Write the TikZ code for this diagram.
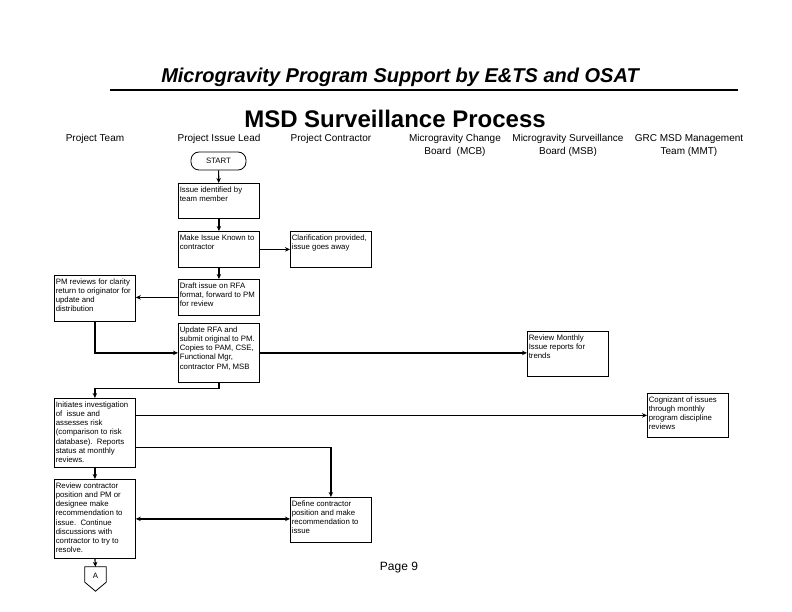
\documentclass[tikz,border=0pt]{standalone}
\usepackage{fontspec}
\setmainfont{Liberation Sans}
\usetikzlibrary{arrows.meta,calc}
\tikzset{
  pbox/.style={draw, line width=0.8pt, inner sep=0pt, fill=white},
  ptext/.style={font=\fontsize{7.8}{9.2}\selectfont, align=left, inner xsep=1.6pt, inner ysep=3.5pt},
  hdr/.style={font=\fontsize{10}{13}\selectfont, align=center},
  arr/.style={line width=1.2pt, -{Stealth[length=5pt,width=4.5pt]}},
  biarr/.style={line width=1.2pt, {Stealth[length=5pt,width=4.5pt]}-{Stealth[length=5pt,width=4.5pt]}},
}
\newcommand\pbox[6]{%
  \node[pbox, minimum width=#4pt, minimum height=#5pt, anchor=north west] (#1) at (#2,#3) {};
  \node[ptext, anchor=north west] (#1-t) at (#1.north west) {#6};
}
\begin{document}
\begin{tikzpicture}[x=1pt,y=-1pt]
\useasboundingbox (0,0) rectangle (792,612);
% titles
\node[font=\fontsize{20}{24}\selectfont\bfseries\itshape] (title) at (400,77) {Microgravity Program Support by E\&TS and OSAT};
\coordinate (tl) at (110,90);
\coordinate (tr) at (738,90);
\draw[line width=1.3pt] (tl) -- (tr);
\node[font=\fontsize{24}{28}\selectfont\bfseries] (sub) at (395,119) {MSD Surveillance Process};
% headers
\node[hdr, anchor=north] (h1) at (95,131) {Project Team};
\node[hdr, anchor=north] (h2) at (219,131) {Project Issue Lead};
\node[hdr, anchor=north] (h3) at (331,131) {Project Contractor};
\node[hdr, anchor=north] (h4) at (455,131) {Microgravity Change\\Board\ \ (MCB)};
\node[hdr, anchor=north] (h5) at (568,131) {Microgravity Surveillance\\Board (MSB)};
\node[hdr, anchor=north] (h6) at (689,131) {GRC MSD Management\\Team (MMT)};
% start
\node[draw, line width=0.8pt, rounded corners=8pt, minimum width=55pt, minimum height=18pt, font=\fontsize{7.8}{9}\selectfont, inner sep=0pt] (start) at (218.5,161) {START};
% boxes
\pbox{b1}{178}{183}{81}{35}{Issue identified by\\team member}
\pbox{b2}{178}{231}{81}{36}{Make Issue Known to\\contractor}
\pbox{clar}{290}{231}{81}{36}{Clarification provided,\\issue goes away}
\pbox{draft}{178}{279}{81}{36}{Draft issue on RFA\\format, forward to PM\\for review}
\pbox{pm}{54}{275}{81}{46}{PM reviews for clarity\\return to originator for\\update and\\distribution}
\pbox{upd}{178}{323}{81}{59}{Update RFA and\\submit original to PM.\\Copies to PAM, CSE,\\Functional Mgr,\\contractor PM, MSB}
\pbox{rm}{527}{331}{81}{45}{Review Monthly\\Issue reports for\\trends}
\pbox{init}{54}{398}{81}{69}{Initiates investigation\\of\ \ issue and\\assesses risk\\(comparison to risk\\database).\ \ Reports\\status at monthly\\reviews.}
\pbox{cog}{647}{393}{81}{44}{Cognizant of issues\\through monthly\\program discipline\\reviews}
\pbox{rc}{54}{479}{81}{79}{Review contractor\\position and PM or\\designee make\\recommendation to\\issue.\ \ Continue\\discussions with\\contractor to try to\\resolve.}
\pbox{def}{290}{497}{81}{45}{Define contractor\\position and make\\recommendation to\\issue}
% off-page connector A
\node[inner sep=0pt, minimum width=21pt, minimum height=24pt] (conA) at (95.5,579) {};
\draw[line width=0.8pt] (conA.north west) -- (conA.north east) -- ($(conA.south east)+(0,-9)$) -- (conA.south) -- ($(conA.south west)+(0,-9)$) -- cycle;
\node[font=\fontsize{7.8}{9}\selectfont] (conA-t) at (95.5,576) {A};
% page
\node[font=\fontsize{12}{14}\selectfont] (page) at (399,568) {Page 9};
% connectors
\draw[arr] (start) -- (b1);
\draw[arr] (b1) -- (b2);
\draw[arr] (b2.east) -- (b2.east -| clar.west);
\draw[arr] (b2) -- (draft);
\draw[arr] (draft.west) -- (draft.west -| pm.east);
\draw[arr] (pm.south) |- (upd.west);
\draw[arr] (upd.east) -- (upd.east -| rm.west);
\draw[arr] (upd.south) -- ++(0,6) -| (init.north);
\draw[arr] (cog.west -| init.east) -- (cog.west);
\draw[arr] ($(init.south east)+(0,-20)$) -| (def.north);
\draw[arr] (init) -- (rc);
\draw[biarr] (rc.east) -- (rc.east -| def.west);
\draw[arr] (rc.south) -- (conA.north);
\end{tikzpicture}
\end{document}
